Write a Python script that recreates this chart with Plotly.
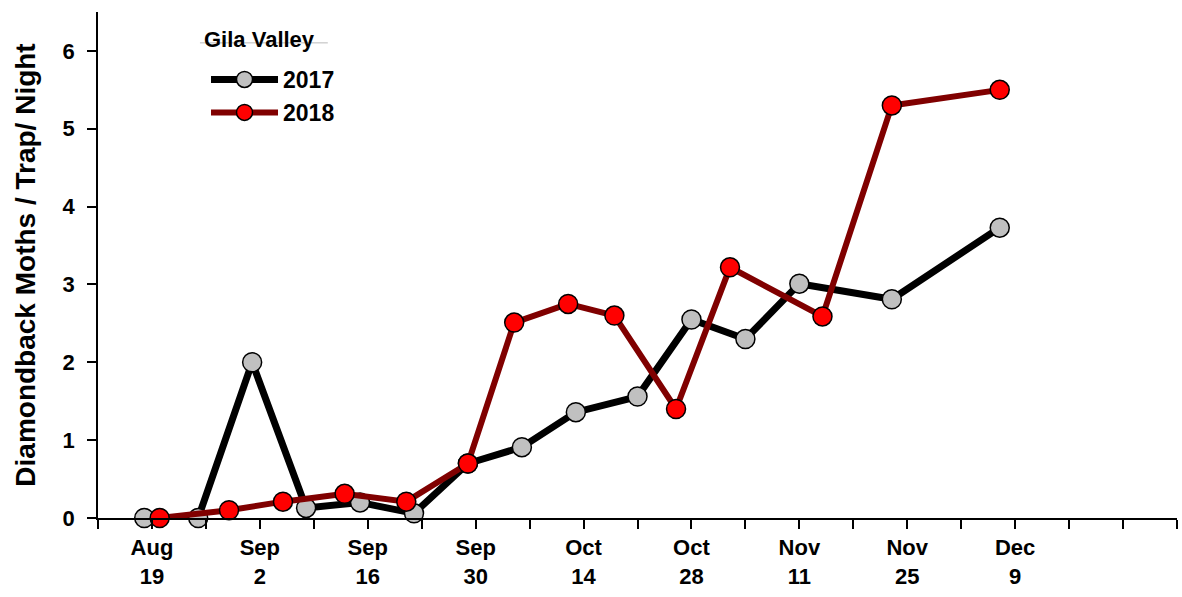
import plotly.graph_objects as go
import pandas as pd

# Gila Valley diamondback moth trap catches, plotted on a common calendar axis
dates_2017 = ['2018-08-18', '2018-08-25', '2018-09-01', '2018-09-08', '2018-09-15',
              '2018-09-22', '2018-09-29', '2018-10-06', '2018-10-13', '2018-10-21',
              '2018-10-28', '2018-11-04', '2018-11-11', '2018-11-23', '2018-12-07']
moths_2017 = [0, 0, 2.0, 0.13, 0.2, 0.06, 0.7, 0.91, 1.36, 1.56, 2.55, 2.30, 3.01, 2.81, 3.73]

dates_2018 = ['2018-08-20', '2018-08-29', '2018-09-05', '2018-09-13', '2018-09-21',
              '2018-09-29', '2018-10-05', '2018-10-12', '2018-10-18', '2018-10-26',
              '2018-11-02', '2018-11-14', '2018-11-23', '2018-12-07']
moths_2018 = [0, 0.1, 0.21, 0.31, 0.21, 0.7, 2.51, 2.75, 2.6, 1.40, 3.22, 2.59, 5.30, 5.50]

tick_dates = [d.strftime('%Y-%m-%d') for d in pd.date_range('2018-08-12', '2018-12-30', freq='7D')]
tick_text = ['', 'Aug<br>19', '', 'Sep<br>2', '', 'Sep<br>16', '', 'Sep<br>30', '',
             'Oct<br>14', '', 'Oct<br>28', '', 'Nov<br>11', '', 'Nov<br>25', '',
             'Dec<br>9', '', '', '']
y_ticks = [0, 1, 2, 3, 4, 5, 6]

FONT = 'Arial, Liberation Sans, sans-serif'


def bold(s):
    return '<br>'.join(f'<b>{p}</b>' if p else '' for p in s.split('<br>'))


fig = go.Figure()

fig.add_trace(go.Scatter(
    x=dates_2017, y=moths_2017,
    mode='lines+markers', name='<b>2017</b>',
    line=dict(color='black', width=7),
    marker=dict(size=19, color='#c0c0c0', line=dict(color='black', width=1.5)),
    cliponaxis=False
))

fig.add_trace(go.Scatter(
    x=dates_2018, y=moths_2018,
    mode='lines+markers', name='<b>2018</b>',
    line=dict(color='#800000', width=6),
    marker=dict(size=19, color='#ff0000', line=dict(color='black', width=1.5)),
    cliponaxis=False
))

# legend heading with its thin grey rule
fig.add_annotation(text='<b>Gila Valley</b>', xref='paper', yref='paper',
                   x=0.0964, y=0.9466, xanchor='left', yanchor='middle',
                   showarrow=False, font=dict(size=22, family=FONT, color='black'))
fig.add_shape(type='line', xref='paper', yref='paper',
              x0=0.0945, x1=0.213, y0=0.939, y1=0.939,
              line=dict(color='#bbbbbb', width=1))

fig.update_layout(
    width=1182, height=597,
    margin=dict(l=98, r=5, t=12, b=79),
    plot_bgcolor='white', paper_bgcolor='white',
    font=dict(family=FONT, color='black'),
    showlegend=True,
    legend=dict(
        x=0.1001, y=0.909, xanchor='left', yanchor='top',
        font=dict(size=23, family=FONT),
        bgcolor='rgba(0,0,0,0)',
        itemwidth=67,
        tracegroupgap=0,
    ),
    xaxis=dict(
        type='date',
        range=['2018-08-12', '2018-12-30'],
        tickmode='array', tickvals=tick_dates, ticktext=[bold(t) for t in tick_text],
        ticks='outside', ticklen=9, tickwidth=1.5, tickcolor='black',
        showline=True, linecolor='black', linewidth=1.5,
        showgrid=False, zeroline=False, automargin=False,
        tickfont=dict(size=22, family=FONT),
    ),
    yaxis=dict(
        range=[0, 6.5],
        tickmode='array', tickvals=y_ticks, ticktext=[bold(str(v)) for v in y_ticks],
        ticks='outside', ticklen=9, tickwidth=1.5, tickcolor='black',
        ticklabelstandoff=8,
        showline=True, linecolor='black', linewidth=1.5,
        showgrid=False, zeroline=False, automargin=False,
        tickfont=dict(size=22, family=FONT),
        title=dict(text='<b>Diamondback Moths / Trap/ Night</b>',
                   font=dict(size=28, family=FONT), standoff=19),
    ),
)

fig.write_html('out.html', config={'displayModeBar': False},
               post_script="document.body.style.margin='0';")
